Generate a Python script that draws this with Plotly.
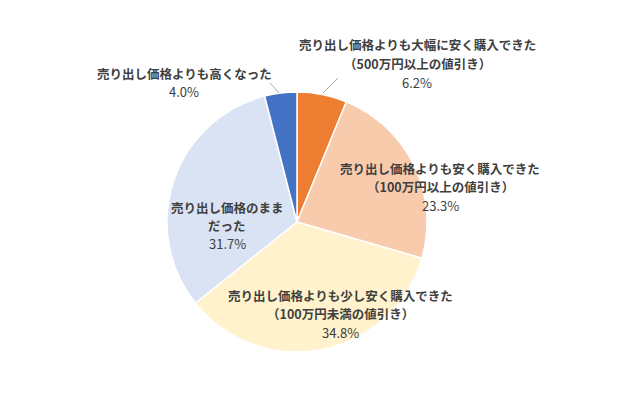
import plotly.graph_objects as go

labels = [
    "売り出し価格よりも大幅に安く購入できた",
    "売り出し価格よりも安く購入できた",
    "売り出し価格よりも少し安く購入できた",
    "売り出し価格のまま",
    "売り出し価格よりも高くなった",
]
sublines = [
    "（500万円以上の値引き）",
    "（100万円以上の値引き）",
    "（100万円未満の値引き）",
    "だった",
    "",
]
values = [6.2, 23.3, 34.8, 31.7, 4.0]
colors = ["#ED7D31", "#F8CBAD", "#FFF2CC", "#DAE3F3", "#4472C4"]

W, H = 640, 407
cx, cy, r = 297, 222, 130


def px(x):
    return x / W


def py(y):
    return 1 - y / H


fig = go.Figure()
fig.add_trace(
    go.Pie(
        labels=labels,
        values=values,
        sort=False,
        direction="clockwise",
        rotation=0,
        textinfo="none",
        hoverinfo="label+percent",
        marker=dict(colors=colors, line=dict(color="white", width=1.5)),
        domain=dict(x=[px(cx - r), px(cx + r)], y=[py(cy + r), py(cy - r)]),
    )
)

# label block positions (pixel x, first line y)
label_pos = [(417, 45), (440, 168), (340, 295), (227, 207), (184, 73)]
step = 18.5
text_color = "#404040"
fam = "Noto Sans CJK JP"

for i, (lx, ly) in enumerate(label_pos):
    lines = [("<b>" + labels[i] + "</b>", 12.5)]
    if sublines[i]:
        lines.append(("<b>" + sublines[i] + "</b>", 12.5))
    lines.append((f"{values[i]:.1f}%", 13))
    for j, (t, sz) in enumerate(lines):
        fig.add_annotation(
            x=px(lx),
            y=py(ly + j * step),
            xref="paper",
            yref="paper",
            text=t,
            showarrow=False,
            xanchor="center",
            yanchor="middle",
            font=dict(family=fam, size=sz, color=text_color),
        )

# leader lines for the two small slices
for x0, y0, x1, y1 in [(323, 93, 338, 78), (279, 93, 270, 83)]:
    fig.add_shape(
        type="line",
        xref="paper",
        yref="paper",
        x0=px(x0),
        y0=py(y0),
        x1=px(x1),
        y1=py(y1),
        line=dict(color="#A6A6A6", width=1),
    )

fig.update_layout(
    showlegend=False,
    paper_bgcolor="white",
    plot_bgcolor="white",
    margin=dict(l=0, r=0, t=0, b=0),
    width=W,
    height=H,
)
fig.write_html(
    "out.html",
    config={"displayModeBar": False},
    post_script="document.body.style.margin='0';",
)
